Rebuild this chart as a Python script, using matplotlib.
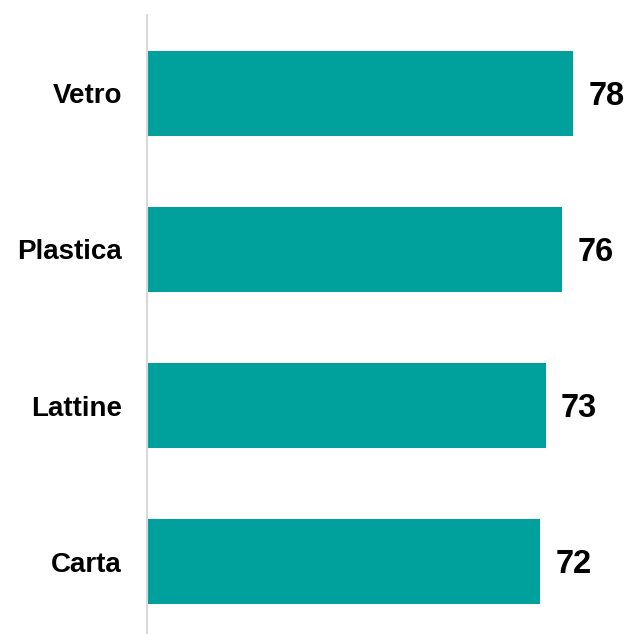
import matplotlib.pyplot as plt

categories = ["Carta", "Lattine", "Plastica", "Vetro"]
values = [72, 73, 76, 78]

plt.rcParams['font.family'] = ['Liberation Sans', 'DejaVu Sans']

fig = plt.figure(figsize=(6.28, 6.34), dpi=100)
ax = fig.add_axes([147/628, 1/634, 1 - 147/628, (633 - 15)/634])

pos = range(len(categories))
bars = ax.barh(pos, values, height=0.545, color="#00A19D")

for b, v in zip(bars, values):
    ax.annotate(str(v), xy=(b.get_width(), b.get_y() + b.get_height()/2),
                xytext=(11, -2), textcoords="offset points",
                ha="left", va="center", fontsize=23.5, fontweight="bold")

ax.set_yticks(list(pos))
ax.set_yticklabels(categories, fontsize=20, fontweight="bold")
ax.tick_params(axis="y", length=0, pad=18)
ax.set_xticks([])
ax.set_xlim(0, 88.1)
ax.set_ylim(-0.458, 3.503)

for s in ["top", "right", "bottom"]:
    ax.spines[s].set_visible(False)
ax.spines["left"].set_color("#d9d9d9")
ax.spines["left"].set_linewidth(1.5)

fig.savefig("out.png", dpi=100)
